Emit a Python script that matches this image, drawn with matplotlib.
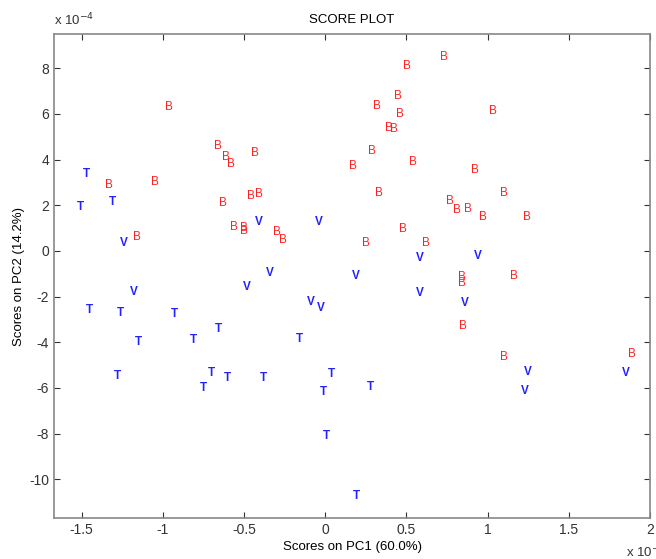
import numpy as np
import matplotlib.pyplot as plt

plt.rcParams['font.family'] = ['Liberation Sans', 'DejaVu Sans']
plt.rcParams['axes.unicode_minus'] = False

# scores, PC1 in units of 1e-3, PC2 in units of 1e-4
b_x = [-0.96, -1.33, -1.05, -1.16, -0.66, -0.61, -0.58, -0.43, -0.63, -0.46, -0.41,
       -0.56, -0.50, -0.50, -0.30, -0.26, 0.50, 0.73, 0.45, 0.32, 0.46, 0.39, 0.42,
       1.03, 0.29, 0.17, 0.54, 0.92, 0.33, 1.10, 0.77, 0.81, 0.88, 0.97, 1.24, 0.48,
       0.25, 0.62, 0.84, 0.84, 1.16, 0.85, 1.10, 1.89]
b_y = [6.3, 2.9, 3.0, 0.6, 4.6, 4.1, 3.8, 4.3, 2.1, 2.4, 2.5,
       1.05, 1.0, 0.87, 0.83, 0.48, 8.1, 8.5, 6.8, 6.35, 6.0, 5.4, 5.35,
       6.15, 4.4, 3.7, 3.9, 3.55, 2.55, 2.55, 2.2, 1.8, 1.85, 1.5, 1.5, 0.96,
       0.35, 0.35, -1.15, -1.4, -1.1, -3.3, -4.65, -4.5]
t_x = [-1.47, -1.51, -1.31, -1.45, -1.26, -1.15, -1.28, -0.93, -0.81, -0.66,
       -0.75, -0.70, -0.60, -0.38, -0.16, -0.01, 0.006, 0.04, 0.28, 0.19]
t_y = [3.37, 1.93, 2.14, -2.6, -2.7, -4.0, -5.5, -2.75, -3.9, -3.4,
       -6.0, -5.35, -5.55, -5.55, -3.85, -6.2, -8.1, -5.4, -5.95, -10.75]
v_x = [-1.24, -0.41, -0.04, -1.18, -0.48, -0.34, -0.09, -0.03, 0.58, 0.94,
       0.19, 0.58, 0.86, 1.25, 1.23, 1.85]
v_y = [0.35, 1.25, 1.27, -1.8, -1.6, -0.97, -2.25, -2.5, -0.3, -0.2,
       -1.1, -1.85, -2.3, -5.3, -6.15, -5.35]

fig = plt.figure(figsize=(6.56, 5.59), dpi=100)
ax = fig.add_axes([0.0823, 0.0733, 0.9087, 0.8657])

groups = [(b_x, b_y, 'B', '#ff2222', 'normal'),
          (t_x, t_y, 'T', '#2222ff', 'bold'),
          (v_x, v_y, 'V', '#2222ff', 'bold')]
for xs, ys, lab, col, wt in groups:
    for x, y in zip(xs, ys):
        ax.text(x, y, lab, color=col, fontsize=8.5, fontweight=wt, ha='center', va='center')

ax.set_xlim(-1.67, 2.0)
ax.set_ylim(-11.7, 9.5)
ax.set_xticks(np.arange(-1.5, 2.01, 0.5))
ax.set_xticklabels(['-1.5', '-1', '-0.5', '0', '0.5', '1', '1.5', '2'])
ax.set_yticks(np.arange(-10, 9, 2))
ax.tick_params(direction='in', top=True, right=True, labelsize=10, colors='#333333', length=4)
for s in ax.spines.values():
    s.set_color('#888888')
    s.set_linewidth(1.2)

ax.set_title('SCORE PLOT', fontsize=9.5, pad=8)
ax.set_xlabel('Scores on PC1 (60.0%)', fontsize=9.5, labelpad=3)
ax.set_ylabel('Scores on PC2 (14.2%)', fontsize=9.5, labelpad=3)
fig.text(0.082, 0.955, 'x 10$^{-4}$', fontsize=9.5, color='#333333')
fig.text(0.955, 0.003, 'x 10$^{-3}$', fontsize=9.5, color='#333333')

plt.savefig('out.png')
